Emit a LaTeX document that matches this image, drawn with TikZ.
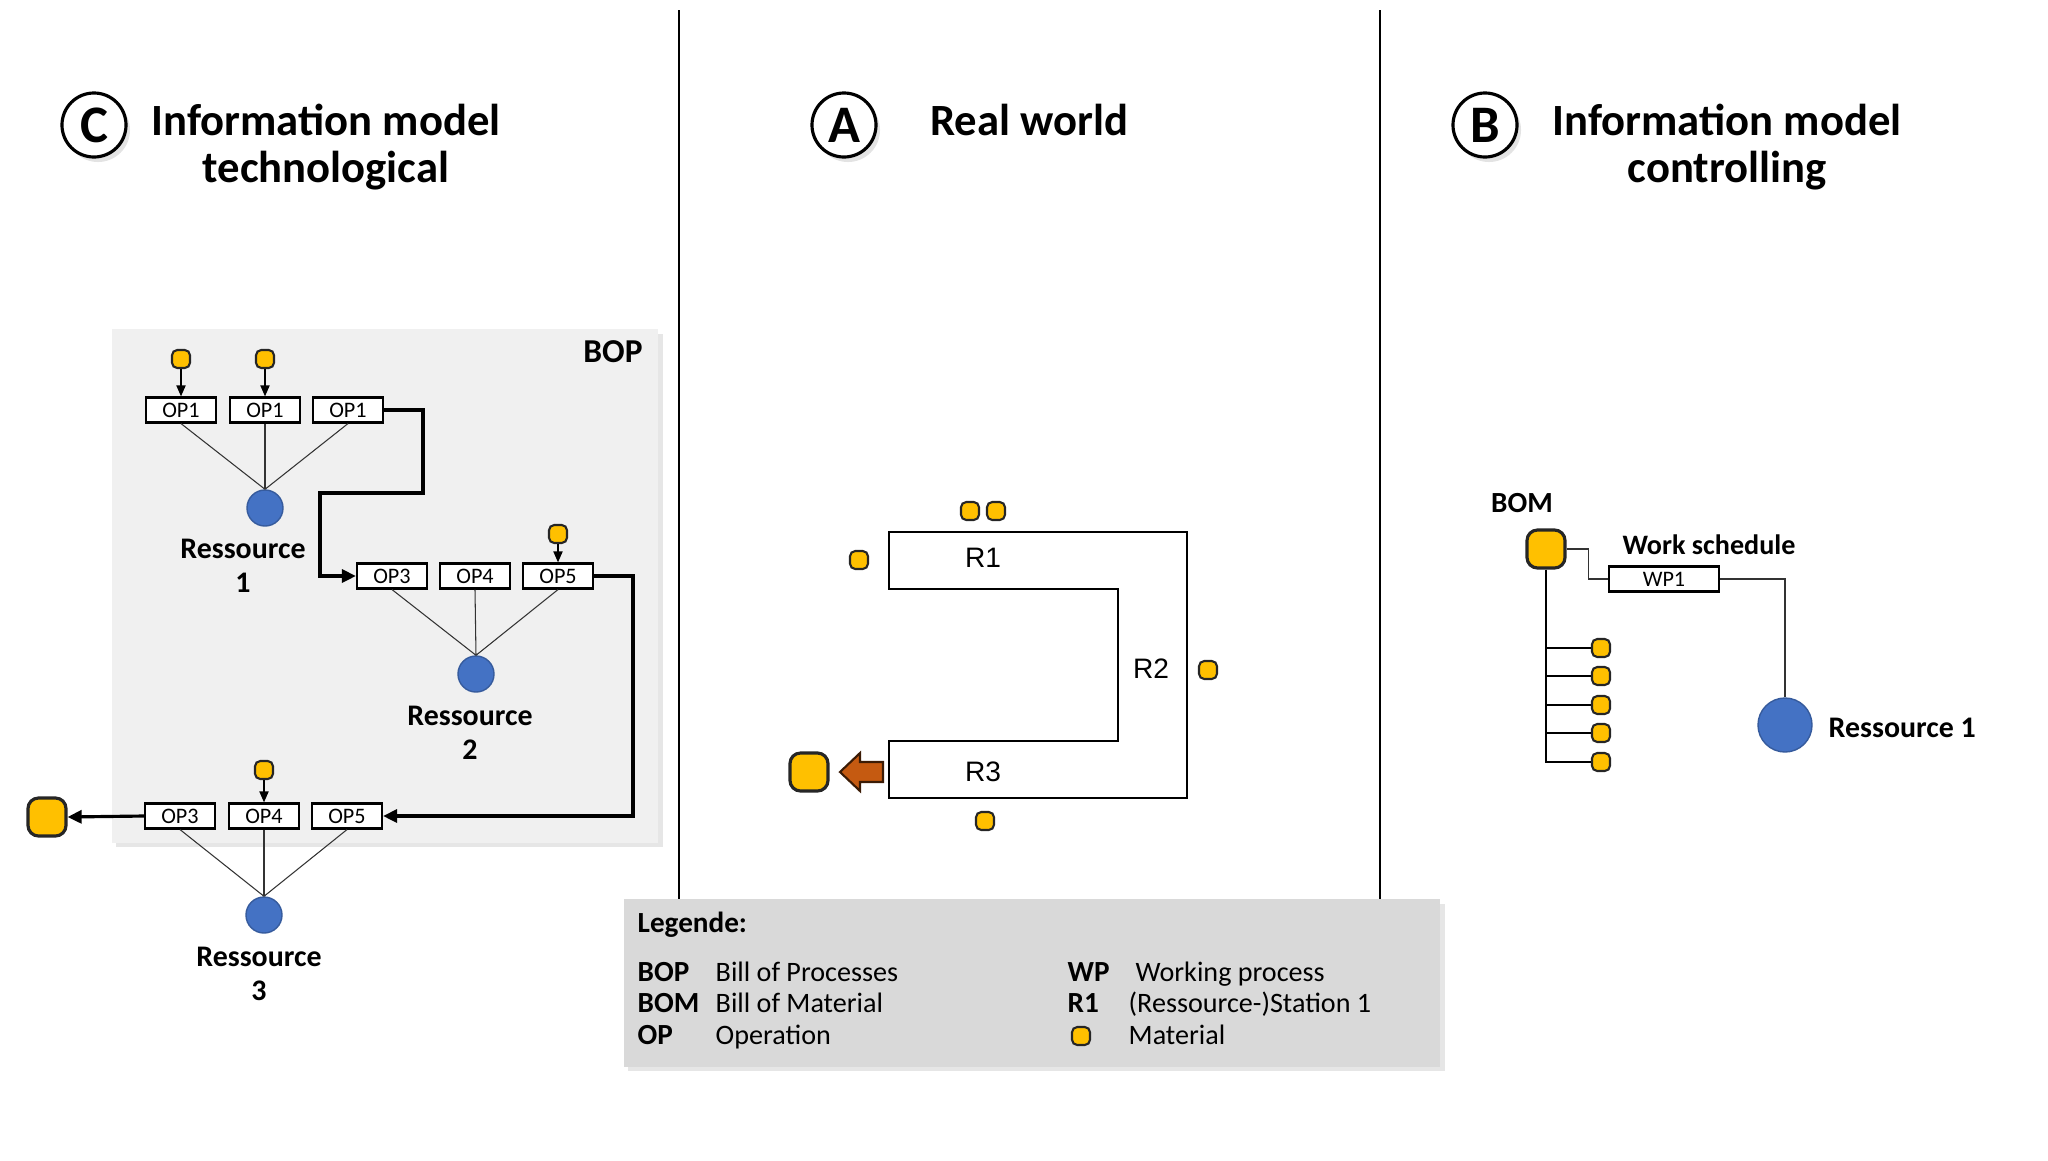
\documentclass[tikz,border=0pt]{standalone}
\usepackage{fontspec}
\setmainfont{Carlito}
\newfontfamily\arialfont{Liberation Sans}
\usetikzlibrary{arrows.meta, positioning, calc, shadows}

\definecolor{matyellow}{HTML}{FFC000}
\definecolor{resblue}{HTML}{4472C4}
\definecolor{arroworange}{HTML}{C55A11}
\definecolor{panelgray}{HTML}{F0F0F0}
\definecolor{legendgray}{HTML}{D9D9D9}

\begin{document}
\begin{tikzpicture}[
  x=0.01cm, y=-0.01cm,
  every node/.style = {inner sep=0pt},
  title/.style = {font=\fontsize{12.7}{13.4}\selectfont\bfseries, align=center},
  badge/.style = {circle, draw=black, line width=0.9pt, fill=white,
    minimum size=0.64cm, font=\fontsize{15}{15}\selectfont\bfseries,
    drop shadow={shadow xshift=0.4mm, shadow yshift=-0.5mm, opacity=0.22}},
  panel/.style = {fill=panelgray, minimum width=5.46cm, minimum height=5.13cm,
    drop shadow={shadow xshift=0.45mm, shadow yshift=-0.45mm, opacity=0.2}},
  legend/.style = {fill=legendgray, minimum width=8.16cm, minimum height=1.67cm,
    drop shadow={shadow xshift=0.45mm, shadow yshift=-0.45mm, opacity=0.2}},
  mat/.style = {rectangle, rounded corners=1.5pt, draw=black!85, line width=0.6pt,
    fill=matyellow, minimum size=0.18cm},
  matbig/.style = {mat, rounded corners=3pt, line width=0.9pt, minimum size=0.38cm},
  res/.style = {circle, fill=resblue, draw=resblue!80!black, line width=0.4pt,
    minimum size=0.36cm},
  opbox/.style = {draw=black, fill=white, line width=0.6pt, minimum width=0.70cm,
    minimum height=0.25cm, font=\fontsize{6.3}{7}\selectfont},
  reslabel/.style = {font=\fontsize{8.5}{9.6}\selectfont\bfseries, align=center},
  station/.style = {font=\arialfont\fontsize{8}{8}\selectfont},
  legabbr/.style = {anchor=base west, font=\fontsize{8.3}{9}\selectfont\bfseries},
  legtext/.style = {anchor=base west, font=\fontsize{8}{9}\selectfont},
  flow/.style = {-{Triangle[length=1.4mm, width=1.3mm]}, line width=0.9pt},
  feed/.style = {-{Triangle[length=1.1mm, width=0.9mm]}, line width=0.5pt},
  link/.style = {line width=0.3pt, draw=black!80},
  tree/.style = {line width=0.8pt},
  divider/.style = {line width=0.8pt}
]
\useasboundingbox (0,0) rectangle (2048,1160);

% === HEADERS ===
\node[badge] (badgeC) at (94,125) {C};
\node[title] (titleC) at (326,147) {Information model\\technological};
\node[badge] (badgeA) at (844,125) {A};
\node[title] (titleA) at (1029,120) {Real world};
\node[badge] (badgeB) at (1485,125) {B};
\node[title] (titleB) at (1727,147) {Information model\\controlling};

% === LEGEND and column separators ===
\node[legend] (legend) at (1032,983) {};
\coordinate (sepL) at (679,10);
\coordinate (sepR) at (1380,10);
\draw[divider] (sepL) -- (sepL |- legend.north);
\draw[divider] (sepR) -- (sepR |- legend.north);

\node[legabbr] (legtitle) at (637,932) {Legende:};
\node[legabbr] (legBOP) at (637,981) {BOP};
\node[legtext] at (715,981) {Bill of Processes};
\node[legabbr] (legBOM) at (637,1012) {BOM};
\node[legtext] at (715,1012) {Bill of Material};
\node[legabbr] (legOP) at (637,1044) {OP};
\node[legtext] at (715,1044) {Operation};
\node[legabbr] (legWP) at (1067,981) {WP};
\node[legtext] at (1135,981) {Working process};
\node[legabbr] (legR1) at (1067,1012) {R1};
\node[legtext] at (1128,1012) {(Ressource-)Station 1};
\node[mat] (legmat) at (1081,1036) {};
\node[legtext] at (1128,1044) {Material};

% === C: technological model (BOP) ===
\node[panel] (bop) at (385,586) {};
\node[font=\fontsize{9.5}{10}\selectfont\bfseries] (boplabel) at (613,352) {BOP};

% first row
\node[mat] (m11) at (181,359) {};
\node[mat] (m12) at (265,359) {};
\node[opbox] (op11) at (181,410) {OP1};
\node[opbox] (op12) at (265,410) {OP1};
\node[opbox] (op13) at (348,410) {OP1};
\node[res] (res1) at (265,508) {};
\node[reslabel] at (243,566) {Ressource\\1};

% second row
\node[mat] (m25) at (558,534) {};
\node[opbox] (op23) at (392,576) {OP3};
\node[opbox] (op24) at (475,576) {OP4};
\node[opbox] (op25) at (558,576) {OP5};
\node[res] (res2) at (476,674) {};
\node[reslabel] at (470,733) {Ressource\\2};

% third row
\node[mat] (m34) at (264,770) {};
\node[opbox] (op33) at (180,816) {OP3};
\node[opbox] (op34) at (264,816) {OP4};
\node[opbox] (op35) at (347,816) {OP5};
\node[res] (res3) at (264,915) {};
\node[reslabel] at (259,974) {Ressource\\3};
\node[matbig] (outC) at (47,817) {};

\draw[feed] (m11) -- (op11);
\draw[feed] (m12) -- (op12);
\draw[feed] (m25) -- (op25);
\draw[feed] (m34) -- (op34);

\draw[link] (op11.south) -- (res1.north);
\draw[link] (op12.south) -- (res1.north);
\draw[link] (op13.south) -- (res1.north);
\draw[link] (op23.south) -- (res2.north);
\draw[link] (op24.south) -- (res2.north);
\draw[link] (op25.south) -- (res2.north);
\draw[link] (op33.south) -- (res3.north);
\draw[link] (op34.south) -- (res3.north);
\draw[link] (op35.south) -- (res3.north);

\draw[flow] (op13.east) -- ++(39,0) -- ++(0,83) -- ++(-103,0) |- (op23.west);
\draw[flow] (op25.east) -- ++(39,0) |- (op35.east);
\draw[flow] (op33.west) -- (outC.east);

% === A: real world ===
\draw[line width=0.8pt] (889,532) -- (1187,532) -- (1187,798) -- (889,798)
  -- (889,741) -- (1118,741) -- (1118,589) -- (889,589) -- cycle;
\node[station] (r1) at (983,558) {R1};
\node[station] (r2) at (1151,669) {R2};
\node[station] (r3) at (983,772) {R3};

\node[mat] (ma1) at (970,511) {};
\node[mat] (ma2) at (996,511) {};
\node[mat] (ma3) at (859,560) {};
\node[mat] (ma4) at (1208,670) {};
\node[mat] (ma5) at (985,821) {};
\node[matbig] (outA) at (809,772) {};
\draw[fill=arroworange, draw=black!70!arroworange, line width=0.6pt]
  (840,772) -- (860,753) -- (860,762) -- (883,762) -- (883,782)
  -- (860,782) -- (860,791) -- cycle;

% === B: controlling model (BOM) ===
\node[font=\fontsize{8.3}{9}\selectfont\bfseries] (bomlabel) at (1522,503) {BOM};
\node[matbig] (bom) at (1546,549) {};
\foreach \i/\y in {1/648, 2/676, 3/705, 4/733, 5/762}
  \node[mat] (part\i) at (1601,\y) {};
\draw[tree] (bom.south) |- (part5.west);
\foreach \i in {1,...,4}
  \draw[tree] (bom.south |- part\i.west) -- (part\i.west);

\node[font=\fontsize{8}{9}\selectfont\bfseries] (schedule) at (1709,545) {Work schedule};
\node[opbox, minimum width=1.10cm] (wp1) at (1664,579) {WP1};
\node[res, minimum size=0.54cm] (resB) at (1785,725) {};
\node[reslabel, anchor=west] (resBlabel) at (1828,728) {Ressource 1};
\draw[link] (bom.east) -- ++(22,0) |- (wp1.west);
\draw[link] (wp1.east) -| (resB.north);

\end{tikzpicture}
\end{document}
